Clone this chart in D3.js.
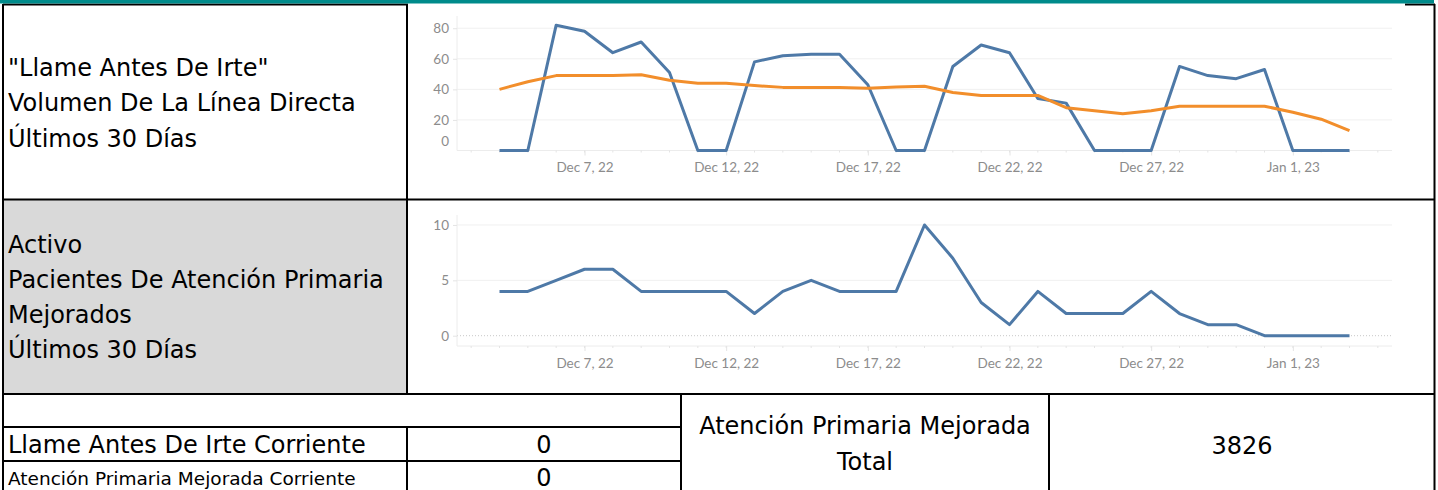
<!DOCTYPE html>
<html>
<head>
<meta charset="utf-8">
<script src="https://cdn.jsdelivr.net/npm/d3@7"></script>
<style>
  body { margin: 0; background: #fff; }
  svg { display: block; }
  .cell-text { font-family: "DejaVu Sans", sans-serif; fill: #000; }
  .tick text { font-family: Lato, sans-serif; font-size: 13.5px; fill: #8c8c8c; }
</style>
</head>
<body>
<svg id="board" width="1438" height="490"></svg>
<script>
// days shown, Dec 4 2022 .. Jan 3 2023
var days = d3.timeDay.range(new Date(2022, 11, 4), new Date(2023, 0, 4));

// "Llame Antes De Irte" daily calls and its running average
var callVolume = [0, 0, 82, 78, 64, 71, 51, 0, 0, 58, 62, 63, 63, 43, 0, 0, 55, 69, 64, 34, 31, 0, 0, 0, 55, 49, 47, 53, 0, 0, 0];
var callAverage = [40, 45, 49, 49, 49, 49.5, 46, 44, 44, 42.5, 41.3, 41.3, 41.3, 40.8, 41.5, 42, 38, 36, 36, 36, 28, 26, 24, 26, 29, 29, 29, 29, 25, 20.5, 13];

// enhanced primary care patients, daily
var patients = [4, 4, 5, 6, 6, 4, 4, 4, 4, 2, 4, 5, 4, 4, 4, 10, 7, 3, 1, 4, 2, 2, 2, 4, 2, 1, 1, 0, 0, 0, 0];

var topTicks = [0, 20, 40, 60, 80];
var bottomTicks = [0, 5, 10];
var dateTicks = [new Date(2022, 11, 7), new Date(2022, 11, 12), new Date(2022, 11, 17), new Date(2022, 11, 22), new Date(2022, 11, 27), new Date(2023, 0, 1)];

var row1Label = ['"Llame Antes De Irte"', 'Volumen De La Línea Directa', 'Últimos 30 Días'];
var row2Label = ['Activo', 'Pacientes De Atención Primaria', 'Mejorados', 'Últimos 30 Días'];
var summaryLabels = ['Llame Antes De Irte Corriente', 'Atención Primaria Mejorada Corriente'];
var summaryValues = [0, 0];
var totalLabel = ['Atención Primaria Mejorada', 'Total'];
var totalValue = 3826;

var blue = '#4e79a7', orange = '#f28e2b';
var svg = d3.select('#board');

var x = d3.scaleTime()
  .domain([new Date(2022, 11, 2, 12), new Date(2023, 0, 4, 12)])
  .range([457, 1392]);

// cell backgrounds
svg.append('rect').attr('x', 3).attr('y', 200).attr('width', 404).attr('height', 194).attr('fill', '#d9d9d9');

function drawChart(g, y, ticks, series, zeroDotted, shiftZero) {
  var top = y.range()[1], bottom = y.range()[0];

  // gridlines
  g.selectAll('.grid')
    .data(ticks.filter(function(d) { return d != 0; }))
    .enter().append('line')
    .attr('x1', 457).attr('x2', 1392)
    .attr('y1', function(d) { return y(d); })
    .attr('y2', function(d) { return y(d); })
    .attr('stroke', '#f0f0f0');

  if (zeroDotted) {
    g.append('line')
      .attr('x1', 457).attr('x2', 1392)
      .attr('y1', y(0)).attr('y2', y(0))
      .attr('stroke', '#c8c8c8').attr('stroke-dasharray', '1,2');
  }

  // axes lines
  g.append('line').attr('x1', 457).attr('x2', 457).attr('y1', top).attr('y2', bottom).attr('stroke', '#ececec');
  g.append('line').attr('x1', 457).attr('x2', 1392).attr('y1', bottom).attr('y2', bottom).attr('stroke', '#ececec');

  // minor day ticks
  g.selectAll('.minor')
    .data(d3.timeDay.range(new Date(2022, 11, 3), new Date(2023, 0, 5)))
    .enter().append('line')
    .attr('x1', function(d) { return x(d); })
    .attr('x2', function(d) { return x(d); })
    .attr('y1', bottom).attr('y2', bottom + 2)
    .attr('stroke', '#e4e4e4');

  var xAxis = g.append('g')
    .attr('transform', 'translate(0,' + bottom + ')')
    .call(d3.axisBottom(x).tickValues(dateTicks).tickSize(5).tickPadding(7)
      .tickFormat(d3.timeFormat('%b %-d, %y')));
  xAxis.select('.domain').remove();
  xAxis.selectAll('.tick line').attr('stroke', '#e4e4e4');

  var yAxis = g.append('g')
    .attr('transform', 'translate(457,0)')
    .call(d3.axisLeft(y).tickValues(ticks).tickSize(4).tickPadding(4));
  yAxis.select('.domain').remove();
  yAxis.selectAll('.tick line').attr('stroke', '#e4e4e4');
  if (shiftZero) {
    yAxis.selectAll('.tick').filter(function(d) { return d == 0; })
      .select('text').attr('dy', '-0.4em');
    yAxis.selectAll('.tick').filter(function(d) { return d == 0; })
      .select('line').remove();
  }

  var line = d3.line()
    .x(function(d, i) { return x(days[i]); })
    .y(function(d) { return y(d); });

  series.forEach(function(s) {
    g.append('path')
      .datum(s.values)
      .attr('d', line)
      .attr('fill', 'none')
      .attr('stroke', s.color)
      .attr('stroke-width', 3)
      .attr('stroke-linejoin', 'round');
  });
}

var yTop = d3.scaleLinear().domain([0, 88]).range([150.5, 16]);
var yBottom = d3.scaleLinear().domain([-0.93, 10.9]).range([346, 215]);

drawChart(svg.append('g'), yTop, topTicks,
  [{ values: callVolume, color: blue }, { values: callAverage, color: orange }], false, true);
drawChart(svg.append('g'), yBottom, bottomTicks,
  [{ values: patients, color: blue }], true, false);

// label cells
svg.append('g').selectAll('text')
  .data(row1Label).enter().append('text')
  .attr('class', 'cell-text')
  .attr('x', 8).attr('y', function(d, i) { return 76 + i * 35.3; })
  .style('font-size', '24px')
  .text(function(d) { return d; });

svg.append('g').selectAll('text')
  .data(row2Label).enter().append('text')
  .attr('class', 'cell-text')
  .attr('x', 8).attr('y', function(d, i) { return 252.5 + i * 35.3; })
  .style('font-size', '24px')
  .text(function(d) { return d; });

// summary rows
svg.append('g').selectAll('text')
  .data(summaryLabels).enter().append('text')
  .attr('class', 'cell-text')
  .attr('x', 8).attr('y', function(d, i) { return i == 0 ? 453 : 485; })
  .style('font-size', function(d, i) { return i == 0 ? '24px' : '18.5px'; })
  .text(function(d) { return d; });

svg.append('g').selectAll('text')
  .data(summaryValues).enter().append('text')
  .attr('class', 'cell-text')
  .attr('x', 544).attr('y', function(d, i) { return i == 0 ? 453 : 485.5; })
  .attr('text-anchor', 'middle')
  .style('font-size', '24px')
  .text(function(d) { return d; });

svg.append('g').selectAll('text')
  .data(totalLabel).enter().append('text')
  .attr('class', 'cell-text')
  .attr('x', 865).attr('y', function(d, i) { return 434 + i * 36; })
  .attr('text-anchor', 'middle')
  .style('font-size', '24px')
  .text(function(d) { return d; });

svg.append('text')
  .attr('class', 'cell-text')
  .attr('x', 1242).attr('y', 454)
  .attr('text-anchor', 'middle')
  .style('font-size', '24px')
  .text(totalValue);

// borders
var borders = [
  [3, 4, 3, 490], [1434.5, 4, 1434.5, 490],
  [3, 4.5, 408, 4.5], [1405, 4.5, 1435, 4.5],
  [407, 4, 407, 394],
  [3, 199.5, 1435, 199.5], [3, 394, 1435, 394],
  [3, 427, 681, 427], [3, 461, 681, 461],
  [407, 427, 407, 490], [681, 394, 681, 490], [1049, 394, 1049, 490]
];
svg.append('g').selectAll('line')
  .data(borders).enter().append('line')
  .attr('x1', function(d) { return d[0]; })
  .attr('y1', function(d) { return d[1]; })
  .attr('x2', function(d) { return d[2]; })
  .attr('y2', function(d) { return d[3]; })
  .attr('stroke', '#000')
  .attr('stroke-width', 2);

svg.append('rect').attr('x', 0).attr('y', 0).attr('width', 1434).attr('height', 3.5).attr('fill', '#008b8b');
</script>
</body>
</html>
